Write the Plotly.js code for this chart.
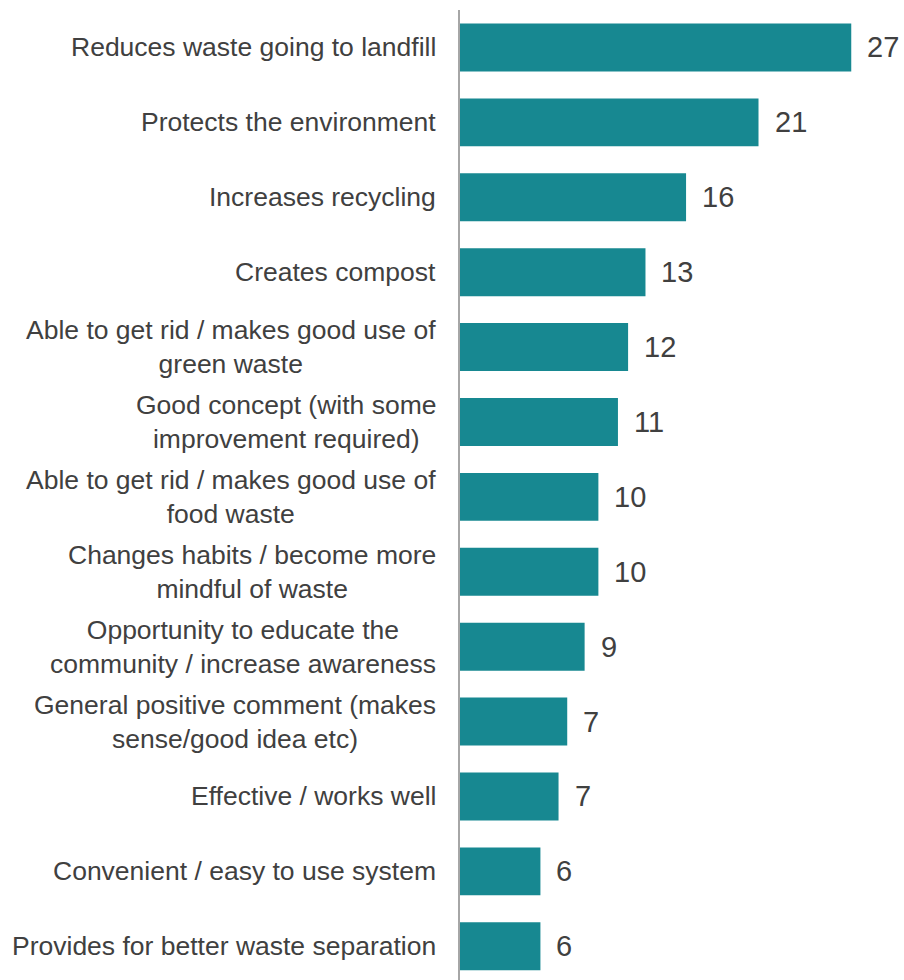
<!DOCTYPE html>
<html>
<head>
<meta charset="utf-8">
<script src="https://cdn.plot.ly/plotly-3.0.1.min.js"></script>
<style>
  html, body { margin: 0; padding: 0; background: #ffffff; }
  #chart { width: 904px; height: 980px; }
</style>
</head>
<body>
<div id="chart"></div>
<script>
const categories = [
  "Reduces waste going to landfill",
  "Protects the environment",
  "Increases recycling",
  "Creates compost",
  "Able to get rid / makes good use of<br>green waste",
  "Good concept (with some<br>improvement required)",
  "Able to get rid / makes good use of<br>food waste",
  "Changes habits / become more<br>mindful of waste",
  "Opportunity to educate the<br>community / increase awareness",
  "General positive comment (makes<br>sense/good idea etc)",
  "Effective / works well",
  "Convenient / easy to use system",
  "Provides for better waste separation"
];
const values = [27.0, 20.6, 15.6, 12.8, 11.6, 10.9, 9.55, 9.55, 8.6, 7.4, 6.8, 5.55, 5.55];
const valueLabels = ["27", "21", "16", "13", "12", "11", "10", "10", "9", "7", "7", "6", "6"];

const textColor = "#404040";
const barColor = "#178891";
const fontFamily = "Liberation Sans, Arial, sans-serif";

const labelAnnotations = categories.map((c) => ({
  xref: "paper", yref: "y",
  x: 0, y: c,
  text: c,
  showarrow: false,
  xanchor: "right", yanchor: "middle",
  align: "center",
  xshift: -22,
  font: { family: fontFamily, size: 26.5, color: textColor }
}));

const valueAnnotations = categories.map((c, i) => ({
  xref: "x", yref: "y",
  x: values[i], y: c,
  text: valueLabels[i],
  showarrow: false,
  xanchor: "left", yanchor: "middle",
  xshift: 14,
  font: { family: fontFamily, size: 29, color: textColor }
}));

const trace = {
  type: "bar",
  orientation: "h",
  x: values,
  y: categories,
  marker: { color: barColor, line: { width: 0 } },
  hoverinfo: "skip"
};

const layout = {
  width: 904,
  height: 980,
  margin: { l: 460, r: 0, t: 10, b: 0, pad: 0 },
  paper_bgcolor: "#ffffff",
  plot_bgcolor: "#ffffff",
  showlegend: false,
  bargap: 0.36,
  font: { family: fontFamily, color: textColor },
  xaxis: {
    range: [0, 30.64],
    showgrid: false,
    zeroline: false,
    showline: false,
    showticklabels: false,
    ticks: ""
  },
  yaxis: {
    type: "category",
    range: [12.45, -0.5],
    showgrid: false,
    zeroline: false,
    showline: true,
    linecolor: "#A6A6A6",
    linewidth: 2,
    showticklabels: false,
    ticks: ""
  },
  annotations: labelAnnotations.concat(valueAnnotations)
};

Plotly.newPlot("chart", [trace], layout, { displayModeBar: false, staticPlot: true });
</script>
</body>
</html>
